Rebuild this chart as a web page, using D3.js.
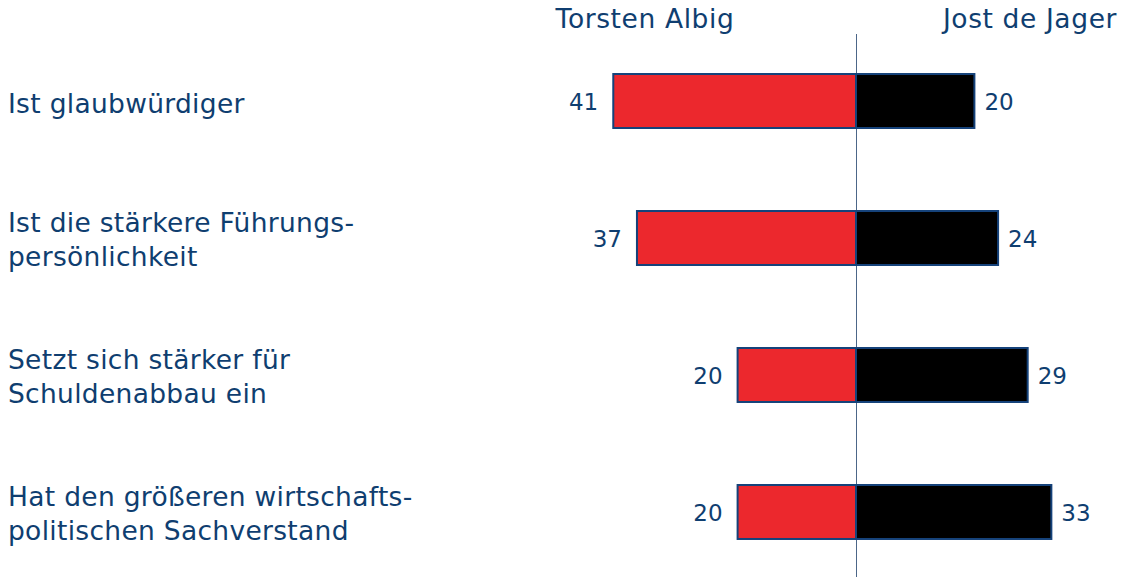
<!DOCTYPE html>
<meta charset="utf-8">
<html>
  <style>
    body { margin: 0; background: #fff; }
    text { font-family: "DejaVu Sans", Verdana, sans-serif; fill: #0f3e70; }
    .bar { stroke: #15427a; stroke-width: 2px; }
  </style>
  <head>
    <script src="https://d3js.org/d3.v7.min.js"></script>
  </head>
  <body>
    <script>
      // data
      var questions = [
        ["Ist glaubwürdiger"],
        ["Ist die stärkere Führungs-", "persönlichkeit"],
        ["Setzt sich stärker für", "Schuldenabbau ein"],
        ["Hat den größeren wirtschafts-", "politischen Sachverstand"]
      ];
      var candidates = ["Torsten Albig", "Jost de Jager"];
      var albig = [41, 37, 20, 20];
      var jager = [20, 24, 29, 33];

      var width = 1122, height = 577;

      var svg = d3.select("body").append("svg")
          .attr("width", width)
          .attr("height", height);

      // scales
      var x = d3.scaleLinear().domain([-50, 50]).range([560, 1152]);
      var y = d3.scaleBand()
          .domain(d3.range(questions.length))
          .range([-9, 622])
          .padding(0.606);

      // center line
      svg.append("line")
         .attr("x1", x(0) + 0.5).attr("x2", x(0) + 0.5)
         .attr("y1", 34).attr("y2", height)
         .style("stroke", "#4c6688")
         .style("stroke-width", 1);

      // headers
      svg.selectAll("text.head")
         .data(candidates)
         .enter().append("text")
         .attr("class", "head")
         .attr("x", function(d, i) { return i === 0 ? 645 : 1030; })
         .attr("y", 28)
         .attr("text-anchor", "middle")
         .style("font-size", "26.5px")
         .style("letter-spacing", "0.6px")
         .text(function(d) { return d; });

      var rows = svg.selectAll("g.row")
          .data(questions)
          .enter().append("g")
          .attr("class", "row");

      // left bars (Albig)
      rows.append("rect")
          .attr("class", "bar")
          .attr("x", function(d, i) { return x(-albig[i]); })
          .attr("y", function(d, i) { return y(i); })
          .attr("width", function(d, i) { return x(0) - x(-albig[i]); })
          .attr("height", y.bandwidth())
          .style("fill", "#ec282d");

      // right bars (de Jager)
      rows.append("rect")
          .attr("class", "bar")
          .attr("x", x(0))
          .attr("y", function(d, i) { return y(i); })
          .attr("width", function(d, i) { return x(jager[i]) - x(0); })
          .attr("height", y.bandwidth())
          .style("fill", "#000");

      // value labels
      rows.append("text")
          .attr("x", function(d, i) { return x(-albig[i]) - 15; })
          .attr("y", function(d, i) { return y(i) + y.bandwidth() / 2 + 9; })
          .attr("text-anchor", "end")
          .style("font-size", "23px")
          .text(function(d, i) { return albig[i]; });
      rows.append("text")
          .attr("x", function(d, i) { return x(jager[i]) + 10; })
          .attr("y", function(d, i) { return y(i) + y.bandwidth() / 2 + 9; })
          .style("font-size", "23px")
          .text(function(d, i) { return jager[i]; });

      // question labels
      rows.each(function(d, i) {
        var c = y(i) + y.bandwidth() / 2;
        var t = d3.select(this).append("text")
            .attr("x", 8)
            .style("font-size", "26.5px")
            .style("letter-spacing", "0.3px");
        var y0 = d.length === 1 ? c + 12 : c - 6;
        d.forEach(function(line, j) {
          t.append("tspan")
           .attr("x", 8)
           .attr("y", y0 + j * 34)
           .text(line);
        });
      });
    </script>
  </body>
</html>
